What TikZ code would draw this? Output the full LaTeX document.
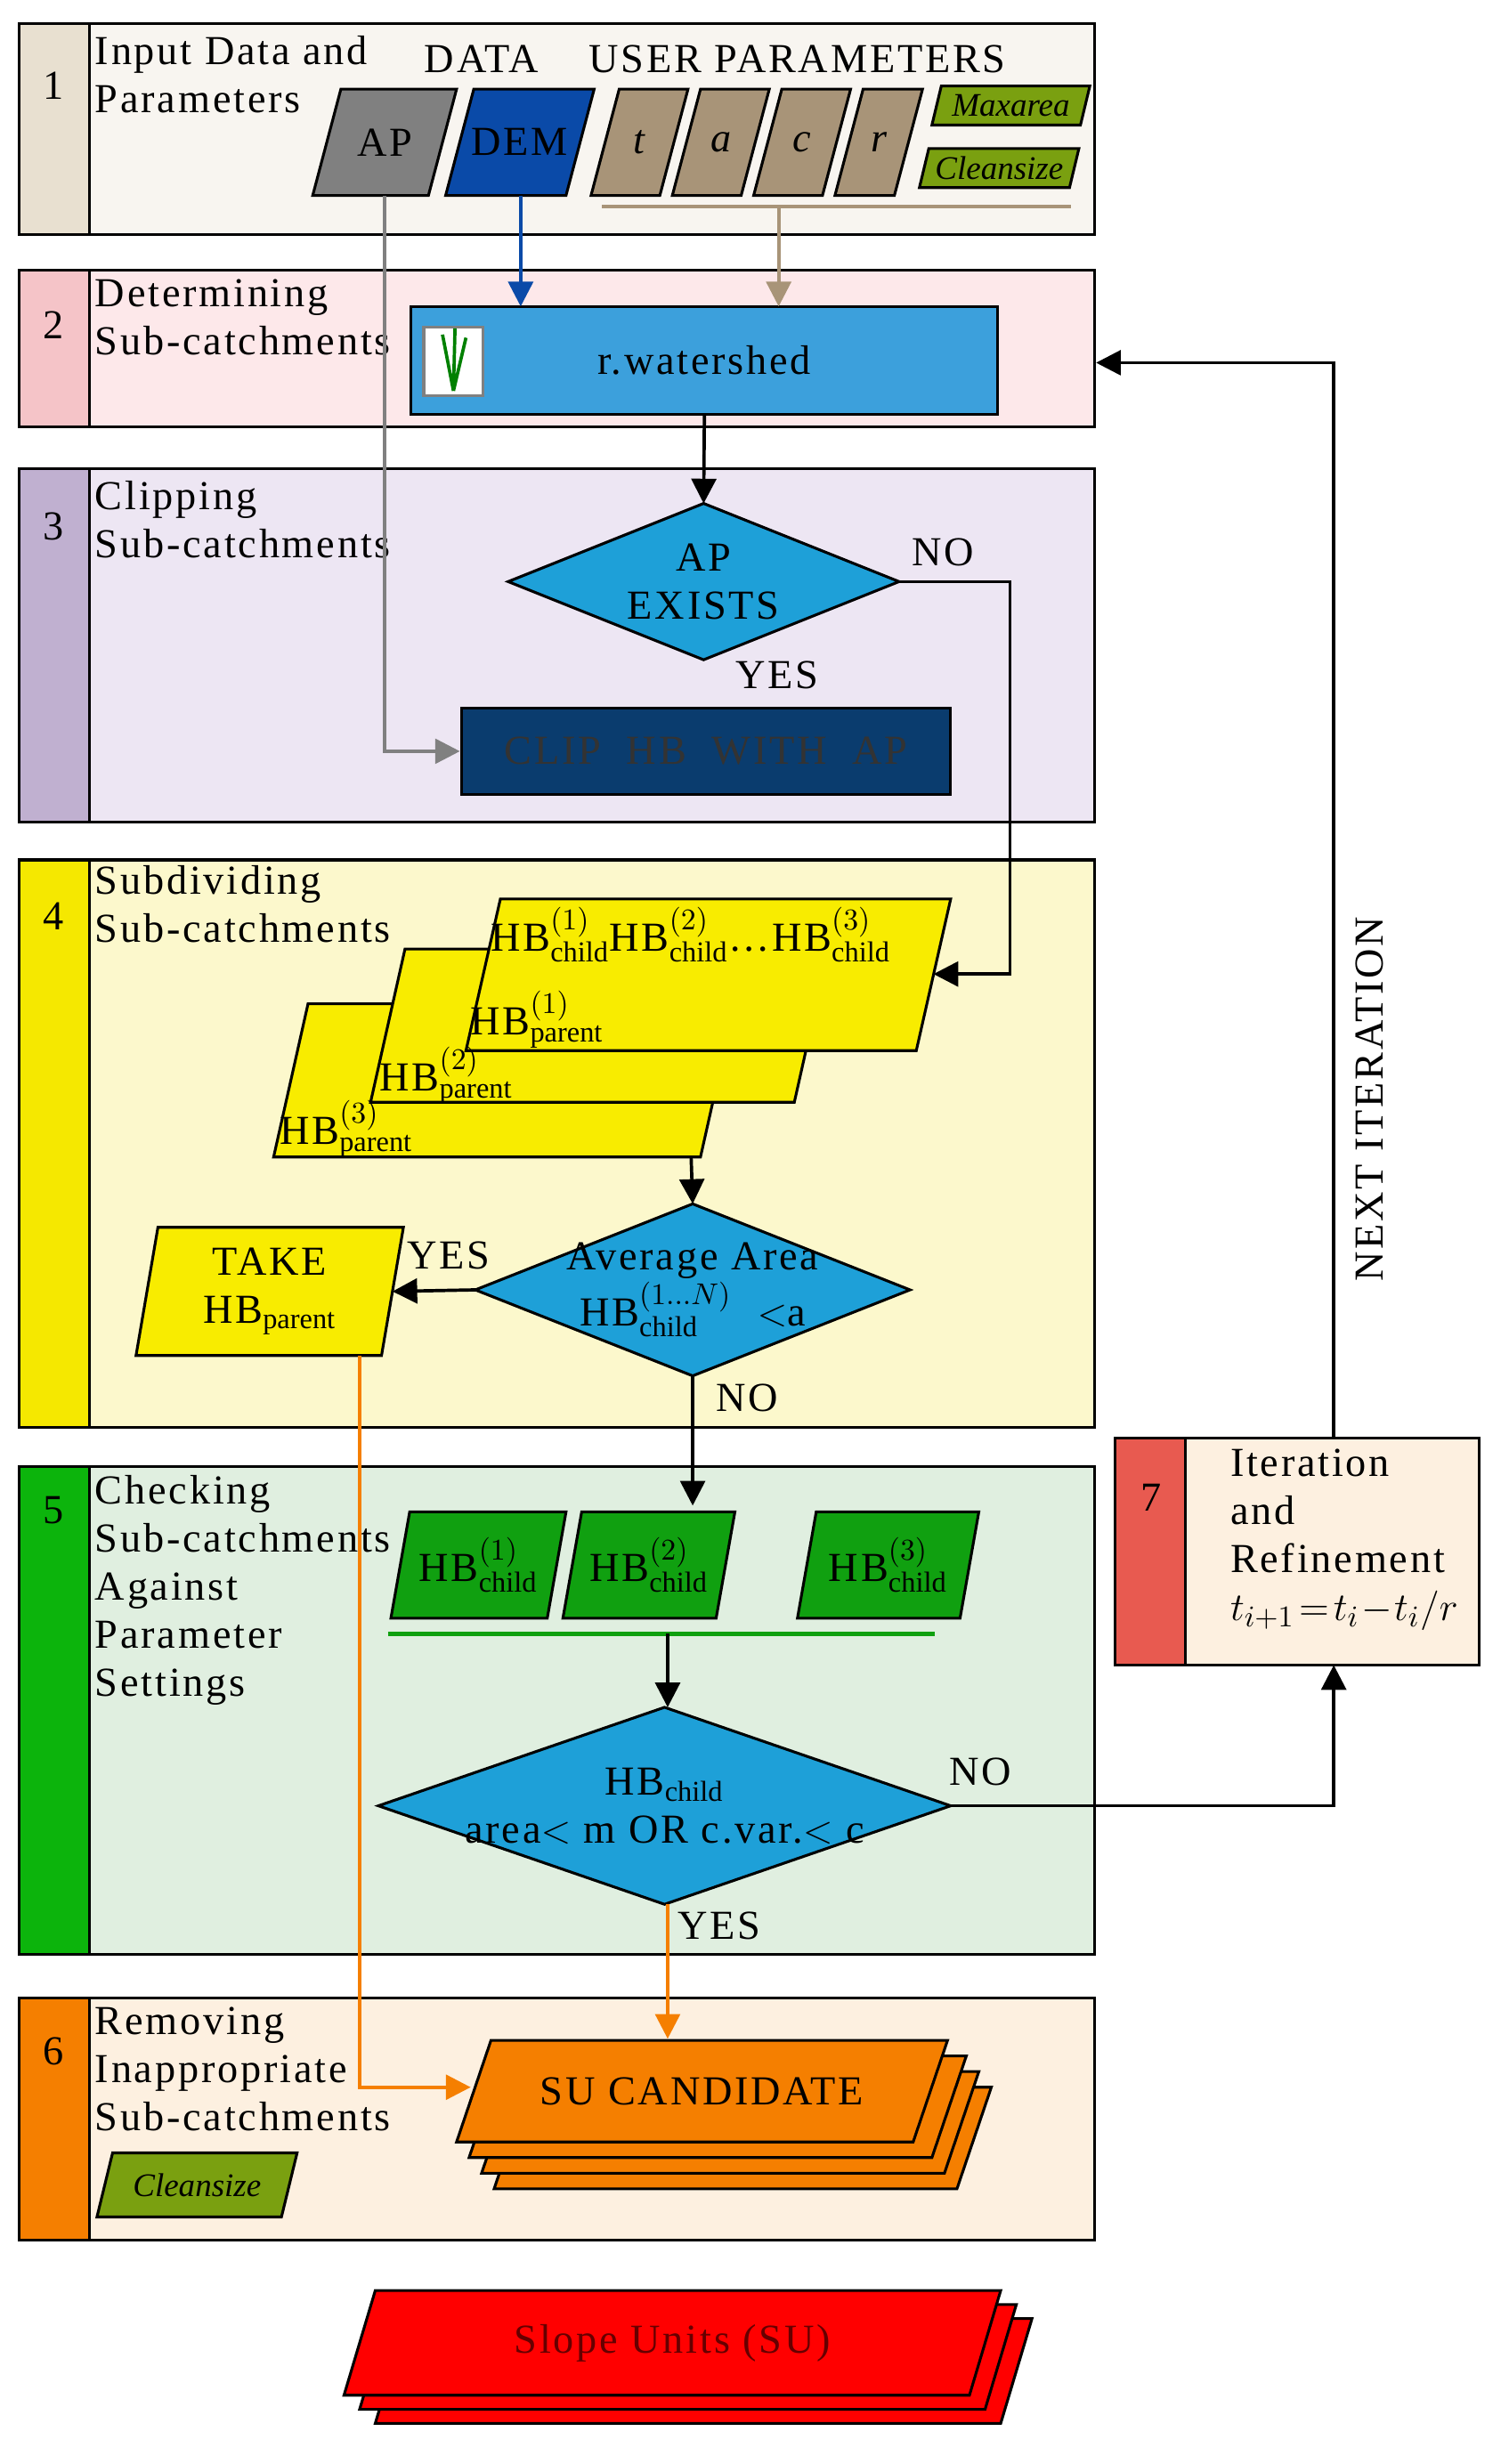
\documentclass[tikz,border=0pt]{standalone}
\usepackage{fontspec}
\setmainfont[LetterSpace=6]{Liberation Serif}
\usetikzlibrary{shapes.geometric,arrows.meta}
\definecolor{bandA}{HTML}{F8F5F0}\definecolor{stripA}{HTML}{E8E0D0}
\definecolor{bandB}{HTML}{FDE8EA}\definecolor{stripB}{HTML}{F5C4C8}
\definecolor{bandC}{HTML}{EDE6F3}\definecolor{stripC}{HTML}{C0B0D0}
\definecolor{bandD}{HTML}{FCF8CC}\definecolor{stripD}{HTML}{F5E800}
\definecolor{bandE}{HTML}{E0EFE0}\definecolor{stripE}{HTML}{0CB40C}
\definecolor{bandF}{HTML}{FDF0E0}\definecolor{stripF}{HTML}{F57F00}
\definecolor{stripG}{HTML}{E85A50}
\definecolor{skyblue}{HTML}{3CA0DC}\definecolor{navy}{HTML}{0A3C6E}
\definecolor{demblue}{HTML}{0A4AA8}\definecolor{brownp}{HTML}{A89478}
\definecolor{olive}{HTML}{7AA010}\definecolor{hbgreen}{HTML}{10A010}
\definecolor{hbyellow}{HTML}{F8EC00}\definecolor{diablue}{HTML}{1EA0D8}
\newcommand{\para}[7]{%
  \draw[fill=#6,line width=1pt] (#1+#5,#2) -- (#3,#2) -- (#3-#5,#4) -- (#1,#4) -- cycle;
  \coordinate (#7) at ({(#1+#3)/2},{(#2+#4)/2});}
\newcommand{\band}[4]{%
  \draw[fill=#3,line width=1pt] (12,#1) rectangle (700,#2);
  \draw[fill=#4,line width=1pt] (12,#1) rectangle (57,#2);}
% diamond: centre x, y, half width, half height, name
\newcommand{\dia}[5]{%
  \coordinate (#5-n) at (#1,#2-#4); \coordinate (#5-s) at (#1,#2+#4);
  \coordinate (#5-w) at (#1-#3,#2); \coordinate (#5-e) at (#1+#3,#2);
  \draw[fill=diablue,line width=1pt] (#5-n) -- (#5-e) -- (#5-s) -- (#5-w) -- cycle;}
\begin{document}
\begin{tikzpicture}[x=0.02cm,y=-0.02cm,line width=1pt,
  txt/.style={font=\fontsize{15}{17.5}\selectfont,inner sep=0pt},
  small/.style={inner sep=0pt,font=\itshape\fontsize{12}{14}\selectfont\addfontfeature{LetterSpace=0}},
  lbl/.style={txt,anchor=north west,align=left},
  num/.style={txt},
  arr/.style={-{Triangle[length=9pt,width=9pt]},line width=1.2pt}]
\useasboundingbox (0,0) rectangle (965,1576);
% bands
\band{15}{150}{bandA}{stripA}
\band{173}{273}{bandB}{stripB}
\band{300}{526}{bandC}{stripC}
\band{550}{913}{bandD}{stripD}
\band{938}{1250}{bandE}{stripE}
\band{1278}{1433}{bandF}{stripF}
\draw[fill=bandF] (713,920) rectangle (946,1065);
\draw[fill=stripG] (713,920) rectangle (758,1065);
\node[num] (n1) at (34,55) {1};
\node[num] (n2) at (34,208) {2};
\node[num] (n3) at (34,337) {3};
\node[num] (n4) at (34,586) {4};
\node[num] (n5) at (34,966) {5};
\node[num] (n6) at (34,1312) {6};
\node[num] (n7) at (736,958) {7};
\node[lbl] (l1) at (60,22) {Input Data and\\Parameters};
\node[lbl] (l2) at (60,178) {Determining\\Sub-catchments};
\node[lbl] (l3) at (60,307) {Clipping\\Sub-catchments};
\node[lbl] (l4) at (60,553) {Subdividing\\Sub-catchments};
\node[lbl] (l5) at (60,943) {Checking\\Sub-catchments\\Against\\Parameter\\Settings};
\node[lbl] (l6) at (60,1283) {Removing\\Inappropriate\\Sub-catchments};
\node[lbl] (l7) at (786,926) {Iteration\\and\\Refinement\\$t_{i+1}\!=\!t_i\!-\!t_i/r$};
\node[txt] (data) at (308,38) {DATA};
\node[txt] (user) at (510,38) {USER PARAMETERS};
% inputs
\para{200}{57}{292}{125}{18}{gray}{ap}
\node[txt] at (ap) {AP};
\para{285}{57}{380}{125}{18}{demblue}{dem}
\node[txt] at (dem) {DEM};
\para{378}{57}{440}{125}{18}{brownp}{pt}\node[txt] at (pt) {\itshape t};
\para{430}{57}{492}{125}{18}{brownp}{pa}\node[txt] at (pa) {\itshape a};
\para{482}{57}{544}{125}{18}{brownp}{pc}\node[txt] at (pc) {\itshape c};
\para{534}{57}{590}{125}{18}{brownp}{pr}\node[txt] at (pr) {\itshape r};
\para{596}{55}{697}{80}{6}{olive}{mx}\node[small] at (mx) {Maxarea};
\para{588}{95}{690}{120}{6}{olive}{cs}\node[small] at (cs) {Cleansize};
\draw[brownp,line width=1.5pt] (385,132) -- (685,132);
\coordinate (ub) at (498,132);
\coordinate (apb) at (246,125);
\coordinate (demb) at (333,125);
% step 2
\node[draw,fill=skyblue,minimum width=375*0.02cm,minimum height=69*0.02cm,txt] (ws) at (450.5,230.5) {r.watershed};
\node[draw=gray,fill=white,minimum width=38*0.02cm,minimum height=44*0.02cm,inner sep=0pt] (icon) at (290,231) {};
\draw[green!50!black,line width=1.2pt] (290,250) -- (283,214) (290,250) -- (291,210) (290,250) -- (298,216);
\draw[arr,demblue] (demb) -- (333,196);
\draw[arr,brownp] (ub) -- (498,196);
% step 3
\dia{450}{372}{125}{50}{d1}
\node[txt,align=center] (t1) at (450,372) {AP\\EXISTS};
\draw[arr] (ws.south) -- (d1-n);
\node[draw,fill=navy,minimum width=313*0.02cm,minimum height=55*0.02cm,txt,text=black!80] (clip) at (451.5,480.5) {CLIP\ \ HB\ \ WITH\ \ AP};
\draw[arr,gray] (apb) |- (clip.west);
\node[txt] (no1) at (603,353) {NO};
\node[txt] (yes1) at (497,432) {YES};
% step 4
\para{175}{642}{470}{740}{22}{hbyellow}{hb3}
\para{237}{607}{530}{705}{22}{hbyellow}{hb2}
\para{298}{575}{608}{672}{22}{hbyellow}{hb1}
\node[txt,anchor=west] at (178,722) {HB$^{(3)}_{\mathrm{parent}}$};
\node[txt,anchor=west] at (242,688) {HB$^{(2)}_{\mathrm{parent}}$};
\node[txt,anchor=west] at (300,652) {HB$^{(1)}_{\mathrm{parent}}$};
\node[txt,anchor=west] at (313,598) {HB$^{(1)}_{\mathrm{child}}$HB$^{(2)}_{\mathrm{child}}$\dots HB$^{(3)}_{\mathrm{child}}$};
\coordinate (hb1r) at (597,623);
\draw[arr] (d1-e) -- (646,372) |- (hb1r);
\coordinate (stk) at (442,740);
\dia{443}{825}{139}{55}{d2}
\node[txt,align=center] (t2) at (443,825) {Average Area\\HB$^{(1\ldots N)}_{\mathrm{child}}$\ \ $<$a};
\draw[arr] (stk) -- (d2-n);
\para{87}{785}{258}{867}{14}{hbyellow}{take}
\node[txt,align=center] at (take) {TAKE\\HB$_{\mathrm{parent}}$};
\coordinate (taker) at (251,826);
\draw[arr] (d2-w) -- (taker);
\node[txt] (yes2) at (287,803) {YES};
\node[txt] (no2) at (478,894) {NO};
% step 5
\para{250}{967}{362}{1035}{12}{hbgreen}{c1}\node[txt] at (c1) {HB$^{(1)}_{\mathrm{child}}$};
\para{360}{967}{470}{1035}{12}{hbgreen}{c2}\node[txt] at (c2) {HB$^{(2)}_{\mathrm{child}}$};
\para{510}{967}{626}{1035}{12}{hbgreen}{c3}\node[txt] at (c3) {HB$^{(3)}_{\mathrm{child}}$};
\draw[arr] (d2-s) -- (443,963);
\draw[hbgreen,line width=1.5pt] (248,1045) -- (598,1045);
\coordinate (gl) at (427,1045);
\dia{425}{1155}{183}{63}{d3}
\node[txt,align=center] (t3) at (425,1155) {HB$_{\mathrm{child}}$\\area$<$ m OR c.var.$<$ c};
\draw[arr] (gl) -- (427,1092);
\coordinate (b7) at (853,1065);
\draw[arr] (d3-e) -| (b7);
\node[txt] (no3) at (627,1133) {NO};
\node[txt] (yes3) at (460,1232) {YES};
% step 6
\para{316}{1335}{634}{1400}{22}{stripF}{s4}
\para{308}{1325}{626}{1390}{22}{stripF}{s3}
\para{300}{1315}{618}{1380}{22}{stripF}{s2}
\para{292}{1305}{606}{1370}{22}{stripF}{s1}
\node[txt] at (s1) {SU CANDIDATE};
\coordinate (s1t) at (427,1304);
\coordinate (s1l) at (301,1335);
\draw[arr,stripF] (427,1218) -- (s1t);
\draw[arr,stripF] (230,867) |- (s1l);
\para{62}{1377}{190}{1418}{10}{olive}{cl}
\node[small] at (cl) {Cleansize};
% result
\para{240}{1483}{660}{1550}{20}{red}{su3}
\para{230}{1474}{650}{1541}{20}{red}{su2}
\para{220}{1465}{640}{1532}{20}{red}{su1}
\node[txt,text=red!40!black] at (su1) {Slope Units (SU)};
% iteration
\coordinate (t7) at (853,920);
\coordinate (r2) at (701,232);
\draw[arr] (t7) |- (r2);
\node[txt,rotate=90] (nx) at (876,703) {NEXT ITERATION};
\end{tikzpicture}
\end{document}
